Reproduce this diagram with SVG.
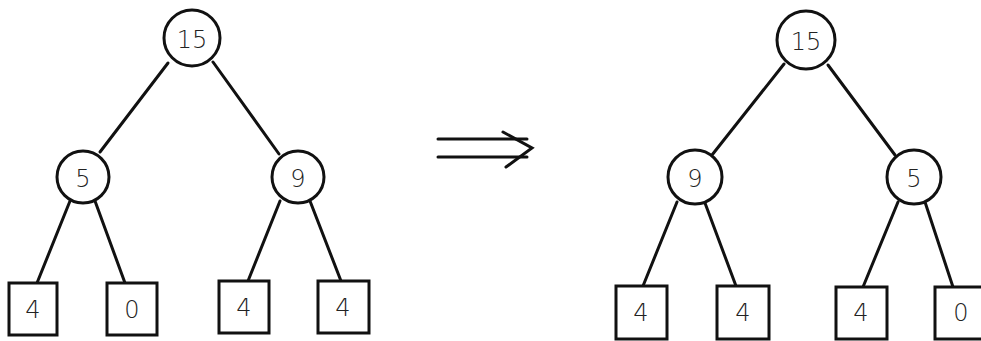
<svg xmlns="http://www.w3.org/2000/svg" width="981" height="341" viewBox="0 0 981 341">
  <style>
    .edge { stroke: #111; stroke-width: 3; fill: none; stroke-linecap: round; }
    .inner { fill: #fff; stroke: #111; stroke-width: 3; }
    .leaf { fill: #fff; stroke: #111; stroke-width: 3; }
    .lbl { font-family: "DejaVu Sans", "Liberation Sans", sans-serif; font-size: 24px; font-weight: 200; fill: #222; text-anchor: middle; dominant-baseline: central; }
  </style>
  <rect width="981" height="341" fill="#fff"/>

  <!-- connectors -->
  <g id="connectors">
    <!-- left tree -->
    <line class="edge" x1="168" y1="63" x2="100" y2="152"/>
    <line class="edge" x1="213" y1="62" x2="279" y2="154"/>
    <line class="edge" x1="70" y1="201" x2="37" y2="283"/>
    <line class="edge" x1="95" y1="201" x2="125" y2="283"/>
    <line class="edge" x1="280" y1="201" x2="248" y2="281"/>
    <line class="edge" x1="310" y1="201" x2="341" y2="281"/>
    <!-- right tree -->
    <line class="edge" x1="784" y1="64" x2="712" y2="155"/>
    <line class="edge" x1="828" y1="65" x2="895" y2="155"/>
    <line class="edge" x1="677" y1="202" x2="643" y2="286"/>
    <line class="edge" x1="705" y1="203" x2="736" y2="286"/>
    <line class="edge" x1="898" y1="202" x2="863" y2="287"/>
    <line class="edge" x1="925" y1="202" x2="953" y2="287"/>
    <!-- transform arrow -->
    <g id="arrow" class="edge">
      <line x1="438" y1="139" x2="527" y2="139"/>
      <line x1="438" y1="157" x2="527" y2="157"/>
      <polyline points="503,132 532,148 506,167"/>
    </g>
  </g>

  <!-- left tree nodes -->
  <g id="L-root"><circle class="inner" cx="192" cy="38" r="28"/><text class="lbl" x="192" y="40">15</text></g>
  <g id="L-5"><circle class="inner" cx="83" cy="177" r="26"/><text class="lbl" x="83" y="179">5</text></g>
  <g id="L-9"><circle class="inner" cx="298" cy="177" r="26"/><text class="lbl" x="298" y="179">9</text></g>
  <g id="L-leaf1"><rect class="leaf" x="9" y="283" width="48" height="52"/><text class="lbl" x="33" y="310">4</text></g>
  <g id="L-leaf2"><rect class="leaf" x="107" y="283" width="50" height="52"/><text class="lbl" x="132" y="310">0</text></g>
  <g id="L-leaf3"><rect class="leaf" x="219" y="281" width="50" height="52"/><text class="lbl" x="244" y="308">4</text></g>
  <g id="L-leaf4"><rect class="leaf" x="318" y="281" width="51" height="52"/><text class="lbl" x="343" y="308">4</text></g>

  <!-- right tree nodes -->
  <g id="R-root"><circle class="inner" cx="806" cy="40" r="29"/><text class="lbl" x="806" y="42">15</text></g>
  <g id="R-9"><circle class="inner" cx="695" cy="177" r="27"/><text class="lbl" x="695" y="179">9</text></g>
  <g id="R-5"><circle class="inner" cx="914" cy="177" r="27"/><text class="lbl" x="914" y="179">5</text></g>
  <g id="R-leaf1"><rect class="leaf" x="616" y="286" width="51" height="53"/><text class="lbl" x="641" y="313">4</text></g>
  <g id="R-leaf2"><rect class="leaf" x="717" y="286" width="52" height="53"/><text class="lbl" x="743" y="313">4</text></g>
  <g id="R-leaf3"><rect class="leaf" x="836" y="287" width="51" height="52"/><text class="lbl" x="861" y="313">4</text></g>
  <g id="R-leaf4"><rect class="leaf" x="935" y="287" width="52" height="52"/><text class="lbl" x="961" y="313">0</text></g>
</svg>
